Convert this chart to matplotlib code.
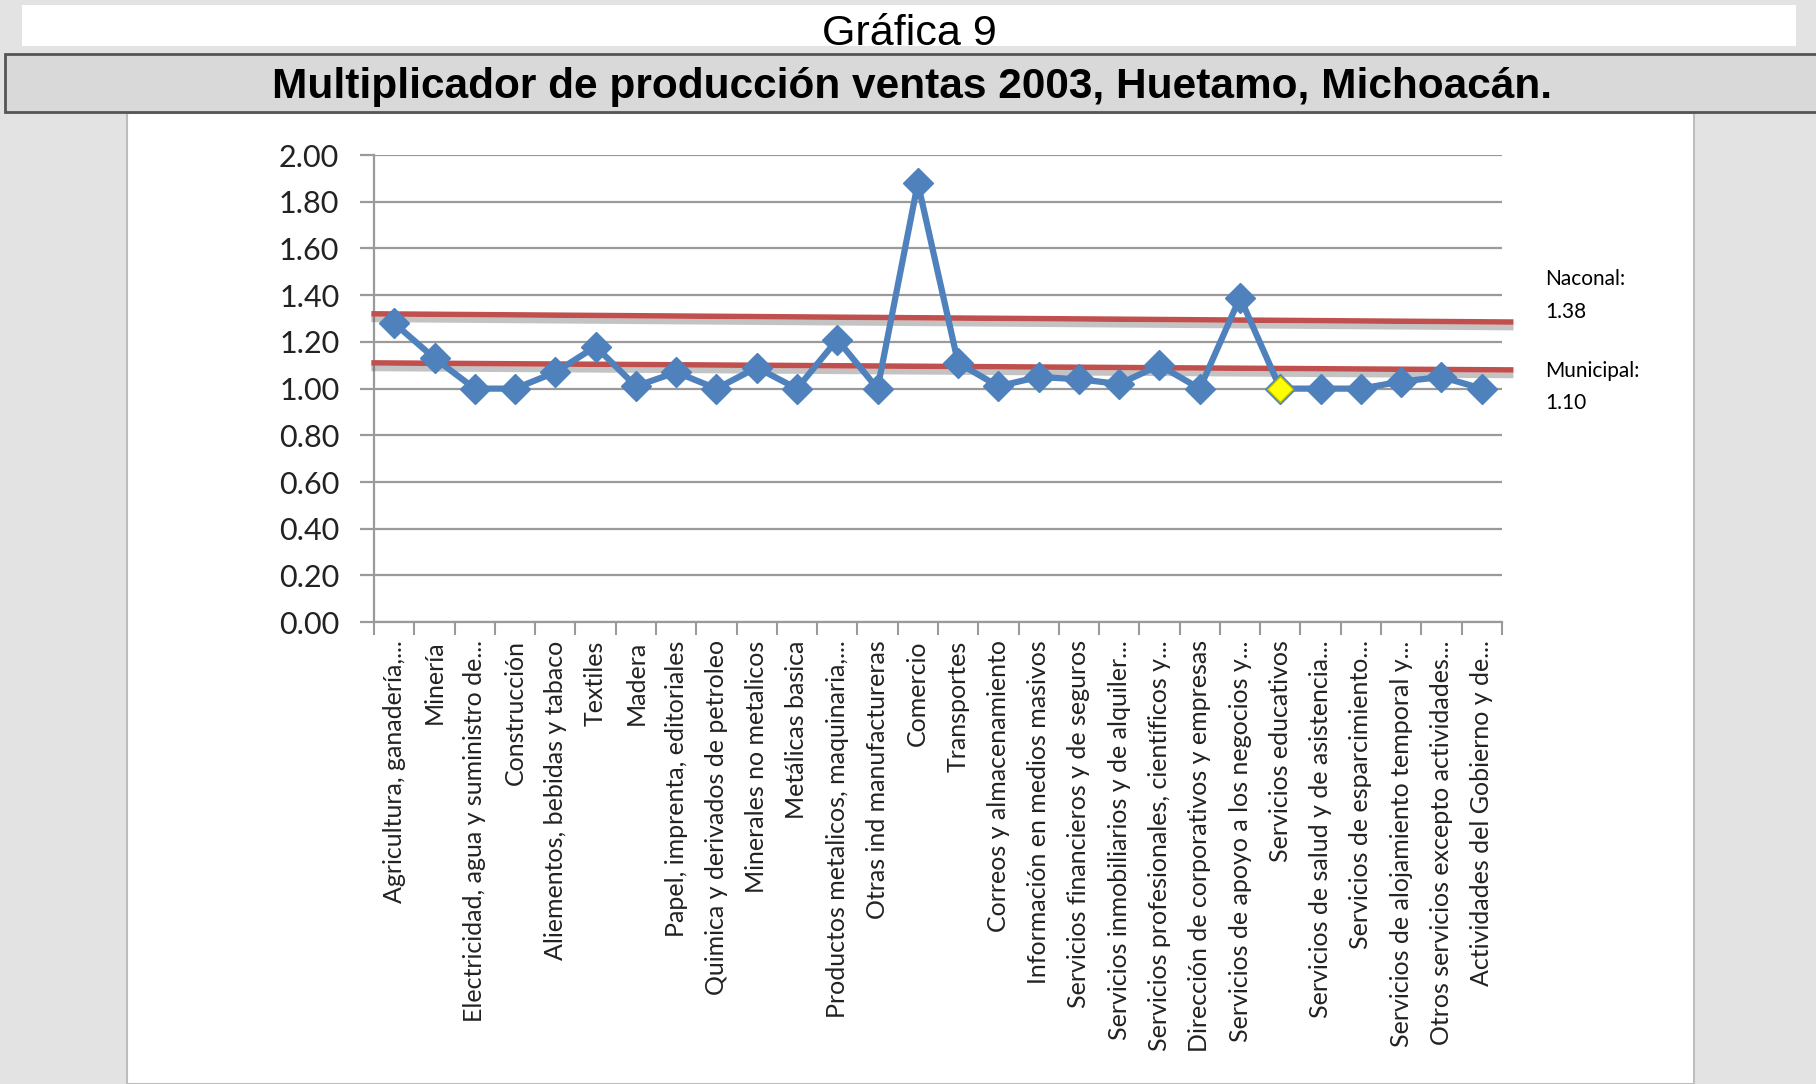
import numpy as np
import matplotlib.pyplot as plt
import matplotlib.patheffects as pe
from matplotlib.patches import Rectangle

## data
sectores = [
    'Agricultura, ganadería,...', 'Minería', 'Electricidad, agua y suministro de...',
    'Construcción', 'Aliementos, bebidas y tabaco', 'Textiles', 'Madera',
    'Papel, imprenta, editoriales', 'Quimica y derivados de petroleo',
    'Minerales no metalicos', 'Metálicas basica', 'Productos metalicos, maquinaria,...',
    'Otras ind manufactureras', 'Comercio', 'Transportes', 'Correos y almacenamiento',
    'Información en medios masivos', 'Servicios financieros y de seguros',
    'Servicios inmobiliarios y de alquiler...', 'Servicios profesionales, científicos y...',
    'Dirección de corporativos y empresas', 'Servicios de apoyo a los negocios y...',
    'Servicios educativos', 'Servicios de salud y de asistencia...',
    'Servicios de esparcimiento...', 'Servicios de alojamiento temporal y...',
    'Otros servicios excepto actividades...', 'Actividades del Gobierno y de...']
multiplicador = [1.28, 1.13, 1.00, 1.00, 1.07, 1.18, 1.01, 1.07, 1.00, 1.09, 1.00, 1.21,
                 1.00, 1.88, 1.11, 1.01, 1.05, 1.04, 1.02, 1.10, 1.00, 1.39, 1.00, 1.00,
                 1.00, 1.03, 1.05, 1.00]
resaltado = 22  # Servicios educativos, yellow marker

## hand drawn reference lines (slightly tilted in the original)
nacional_y = [1.32, 1.285]
municipal_y = [1.11, 1.08]
linea_x = [-0.5, 27.72]
nacional_txt = ['Naconal:', '1.38']
municipal_txt = ['Municipal:', '1.10']

yticks = [0.0, 0.2, 0.4, 0.6, 0.8, 1.0, 1.2, 1.4, 1.6, 1.8, 2.0]

fig = plt.figure(figsize=(18.16, 10.84), dpi=100)
fig.patch.set_facecolor('#e3e3e3')

## white chart area and title bands
fig.add_artist(Rectangle((0.070, 0.0), 0.863, 0.896, transform=fig.transFigure,
                         facecolor='white', edgecolor='#bdbdbd', lw=1.5, zorder=0))
fig.add_artist(Rectangle((0.012, 0.958), 0.977, 0.037, transform=fig.transFigure,
                         facecolor='white', edgecolor='none', zorder=0))
fig.add_artist(Rectangle((0.003, 0.897), 1.0, 0.053, transform=fig.transFigure,
                         facecolor='#d9d9d9', edgecolor='#555555', lw=2, zorder=1))
fig.text(0.501, 0.969, 'Gráfica 9', ha='center', va='center', fontsize=31,
         family='Liberation Sans')
fig.text(0.502, 0.920, 'Multiplicador de producción ventas 2003, Huetamo, Michoacán.',
         ha='center', va='center', fontsize=30.5, fontweight='bold', family='Liberation Sans',
         zorder=2)

ax = fig.add_axes([0.206, 0.426, 0.621, 0.431])
ax.set_facecolor('none')
x = np.arange(len(sectores))

ax.set_ylim(0, 2.0)
ax.set_xlim(-0.5, len(sectores) - 0.5)
ax.set_yticks(yticks)
ax.set_yticklabels(['%.2f' % v for v in yticks], family='Lato', fontsize=22, color='#222222')
ax.yaxis.grid(True, color='#9a9a9a', lw=1.6)
ax.set_axisbelow(True)
ax.tick_params(axis='y', length=10, width=1.6, color='#9a9a9a', pad=15)

ax.set_xticks(x)
ax.set_xticklabels(sectores, rotation=90, family='Lato', fontsize=18, color='#222222',
                   va='top', ha='center')
ax.set_xticks(np.arange(-0.5, len(sectores)), minor=True)
ax.tick_params(axis='x', which='major', length=0, pad=13)
ax.tick_params(axis='x', which='minor', length=9, width=1.5, color='#9a9a9a')

for s in ['top', 'right']:
    ax.spines[s].set_visible(False)
for s in ['left', 'bottom']:
    ax.spines[s].set_color('#9a9a9a')
    ax.spines[s].set_linewidth(1.6)

sombra = [pe.SimpleLineShadow(offset=(0, -4), shadow_color='#555555', alpha=0.35),
          pe.Normal()]
ax.plot(linea_x, nacional_y, color='#c0504d', lw=4, clip_on=False, zorder=3,
        path_effects=sombra)
ax.plot(linea_x, municipal_y, color='#c0504d', lw=4, clip_on=False, zorder=3,
        path_effects=sombra)

ax.plot(x, multiplicador, color='#4f81bd', lw=4.5, marker='D', markersize=15,
        markerfacecolor='#4f81bd', markeredgecolor='#4f81bd', zorder=4, clip_on=False)
ax.plot(x[resaltado], multiplicador[resaltado], marker='D', markersize=13, ls='none',
        markerfacecolor='#ffff00', markeredgecolor='#b5b500', zorder=5)

fig.text(0.851, 0.743, nacional_txt[0], fontsize=15, family='Lato', va='center')
fig.text(0.851, 0.712, nacional_txt[1], fontsize=15, family='Lato', va='center')
fig.text(0.851, 0.658, municipal_txt[0], fontsize=15, family='Lato', va='center')
fig.text(0.851, 0.628, municipal_txt[1], fontsize=15, family='Lato', va='center')

fig.savefig('out.png', dpi=100)
